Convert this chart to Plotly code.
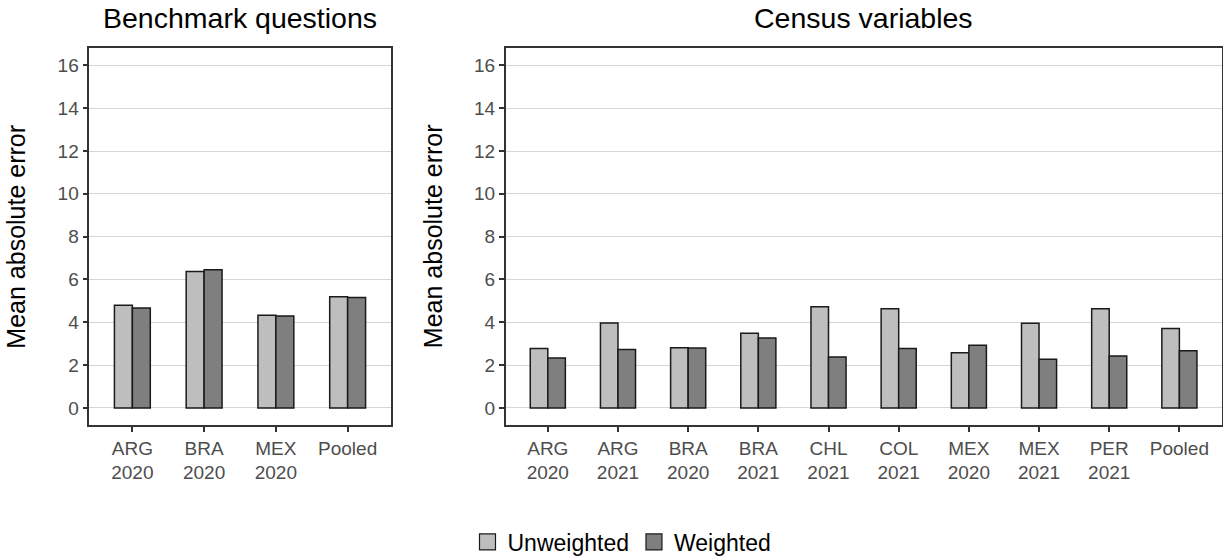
import plotly.graph_objects as go

# ---- data ----
bench_categories = ["ARG<br>2020", "BRA<br>2020", "MEX<br>2020", "Pooled"]
bench_unweighted = [4.80, 6.37, 4.33, 5.19]
bench_weighted = [4.67, 6.45, 4.29, 5.16]

census_categories = ["ARG<br>2020", "ARG<br>2021", "BRA<br>2020", "BRA<br>2021", "CHL<br>2021",
                     "COL<br>2021", "MEX<br>2020", "MEX<br>2021", "PER<br>2021", "Pooled"]
census_unweighted = [2.78, 3.97, 2.81, 3.49, 4.73, 4.63, 2.58, 3.95, 4.63, 3.71]
census_weighted = [2.33, 2.73, 2.80, 3.26, 2.38, 2.77, 2.93, 2.27, 2.42, 2.67]

y_ticks = [0, 2, 4, 6, 8, 10, 12, 14, 16]
series_names = ["Unweighted", "Weighted"]
panel_titles = ["Benchmark questions", "Census variables"]
y_title = "Mean absolute error"

# ---- style ----
W, H = 1223, 558
FONT = "Liberation Sans, Arial, sans-serif"
COL_UNW = "#bebebe"
COL_W = "#7f7f7f"
LINE = dict(color="#1a1a1a", width=1.5)

fig = go.Figure()

fig.add_trace(go.Bar(x=bench_categories, y=bench_unweighted, marker=dict(color=COL_UNW, line=LINE),
                     xaxis="x", yaxis="y", showlegend=False, name=series_names[0]))
fig.add_trace(go.Bar(x=bench_categories, y=bench_weighted, marker=dict(color=COL_W, line=LINE),
                     xaxis="x", yaxis="y", showlegend=False, name=series_names[1]))
fig.add_trace(go.Bar(x=census_categories, y=census_unweighted, marker=dict(color=COL_UNW, line=LINE),
                     xaxis="x2", yaxis="y2", showlegend=False, name=series_names[0]))
fig.add_trace(go.Bar(x=census_categories, y=census_weighted, marker=dict(color=COL_W, line=LINE),
                     xaxis="x2", yaxis="y2", showlegend=False, name=series_names[1]))

# legend proxies
for nm, c in zip(series_names, [COL_UNW, COL_W]):
    fig.add_trace(go.Scatter(x=[None], y=[None], mode="markers", name=nm,
                             marker=dict(symbol="square", size=16, color=c,
                                         line=dict(color="#1a1a1a", width=1.2)),
                             xaxis="x2", yaxis="y2", showlegend=True))

def px_x(v):
    return v / W

def px_y(v):
    return 1 - v / H

xdom1 = [px_x(89.3), px_x(390.7)]
xdom2 = [px_x(505.7), px_x(1221.5)]
ydom = [px_y(425.0), px_y(48.3)]

tickfont = dict(family=FONT, size=19, color="#4d4d4d")
common_x = dict(type="category", showline=True, mirror=True, linecolor="#333333", linewidth=1.5,
                ticks="outside", ticklen=5, tickwidth=1.5, tickcolor="#333333",
                showgrid=False, tickfont=tickfont, zeroline=False)
common_y = dict(range=[-0.8, 16.8], tickvals=y_ticks, showline=True, mirror=True,
                linecolor="#333333", linewidth=1.5, ticks="outside", ticklen=5, tickwidth=1.5,
                tickcolor="#333333", showgrid=True, gridcolor="#d6d6d6", gridwidth=1,
                zeroline=False, tickfont=tickfont)

fig.update_layout(
    width=W, height=H,
    margin=dict(l=0, r=0, t=0, b=0, autoexpand=False),
    paper_bgcolor="white", plot_bgcolor="white",
    barmode="group", bargap=0.5, bargroupgap=0,
    font=dict(family=FONT, color="black"),
    xaxis=dict(domain=xdom1, anchor="y", range=[-0.6, 3.6], **common_x),
    yaxis=dict(domain=ydom, anchor="x", **common_y),
    xaxis2=dict(domain=xdom2, anchor="y2", range=[-0.6, 9.6], **common_x),
    yaxis2=dict(domain=ydom, anchor="x2", **common_y),
    legend=dict(orientation="h", x=px_x(622), xanchor="center", y=px_y(542), yanchor="middle",
                font=dict(family=FONT, size=23, color="black"), bgcolor="rgba(0,0,0,0)",
                itemsizing="trace"),
    showlegend=True,
)

annotations = [
    dict(text=panel_titles[0], x=(xdom1[0] + xdom1[1]) / 2, y=px_y(18), xref="paper", yref="paper",
         xanchor="center", yanchor="middle", showarrow=False, font=dict(family=FONT, size=28.5, color="black")),
    dict(text=panel_titles[1], x=(xdom2[0] + xdom2[1]) / 2, y=px_y(18), xref="paper", yref="paper",
         xanchor="center", yanchor="middle", showarrow=False, font=dict(family=FONT, size=28.5, color="black")),
    dict(text=y_title, x=px_x(16), y=(ydom[0] + ydom[1]) / 2, xref="paper", yref="paper",
         xanchor="center", yanchor="middle", textangle=-90, showarrow=False,
         font=dict(family=FONT, size=25, color="black")),
    dict(text=y_title, x=px_x(432.5), y=(ydom[0] + ydom[1]) / 2, xref="paper", yref="paper",
         xanchor="center", yanchor="middle", textangle=-90, showarrow=False,
         font=dict(family=FONT, size=25, color="black")),
]
fig.update_layout(annotations=annotations)

fig.write_html("out.html",
               config={"displayModeBar": False},
               post_script=("document.documentElement.style.margin='0';"
                            "document.documentElement.style.overflow='hidden';"
                            "document.body.style.margin='0';document.body.style.padding='0';"
                            "document.body.style.overflow='hidden';"))
